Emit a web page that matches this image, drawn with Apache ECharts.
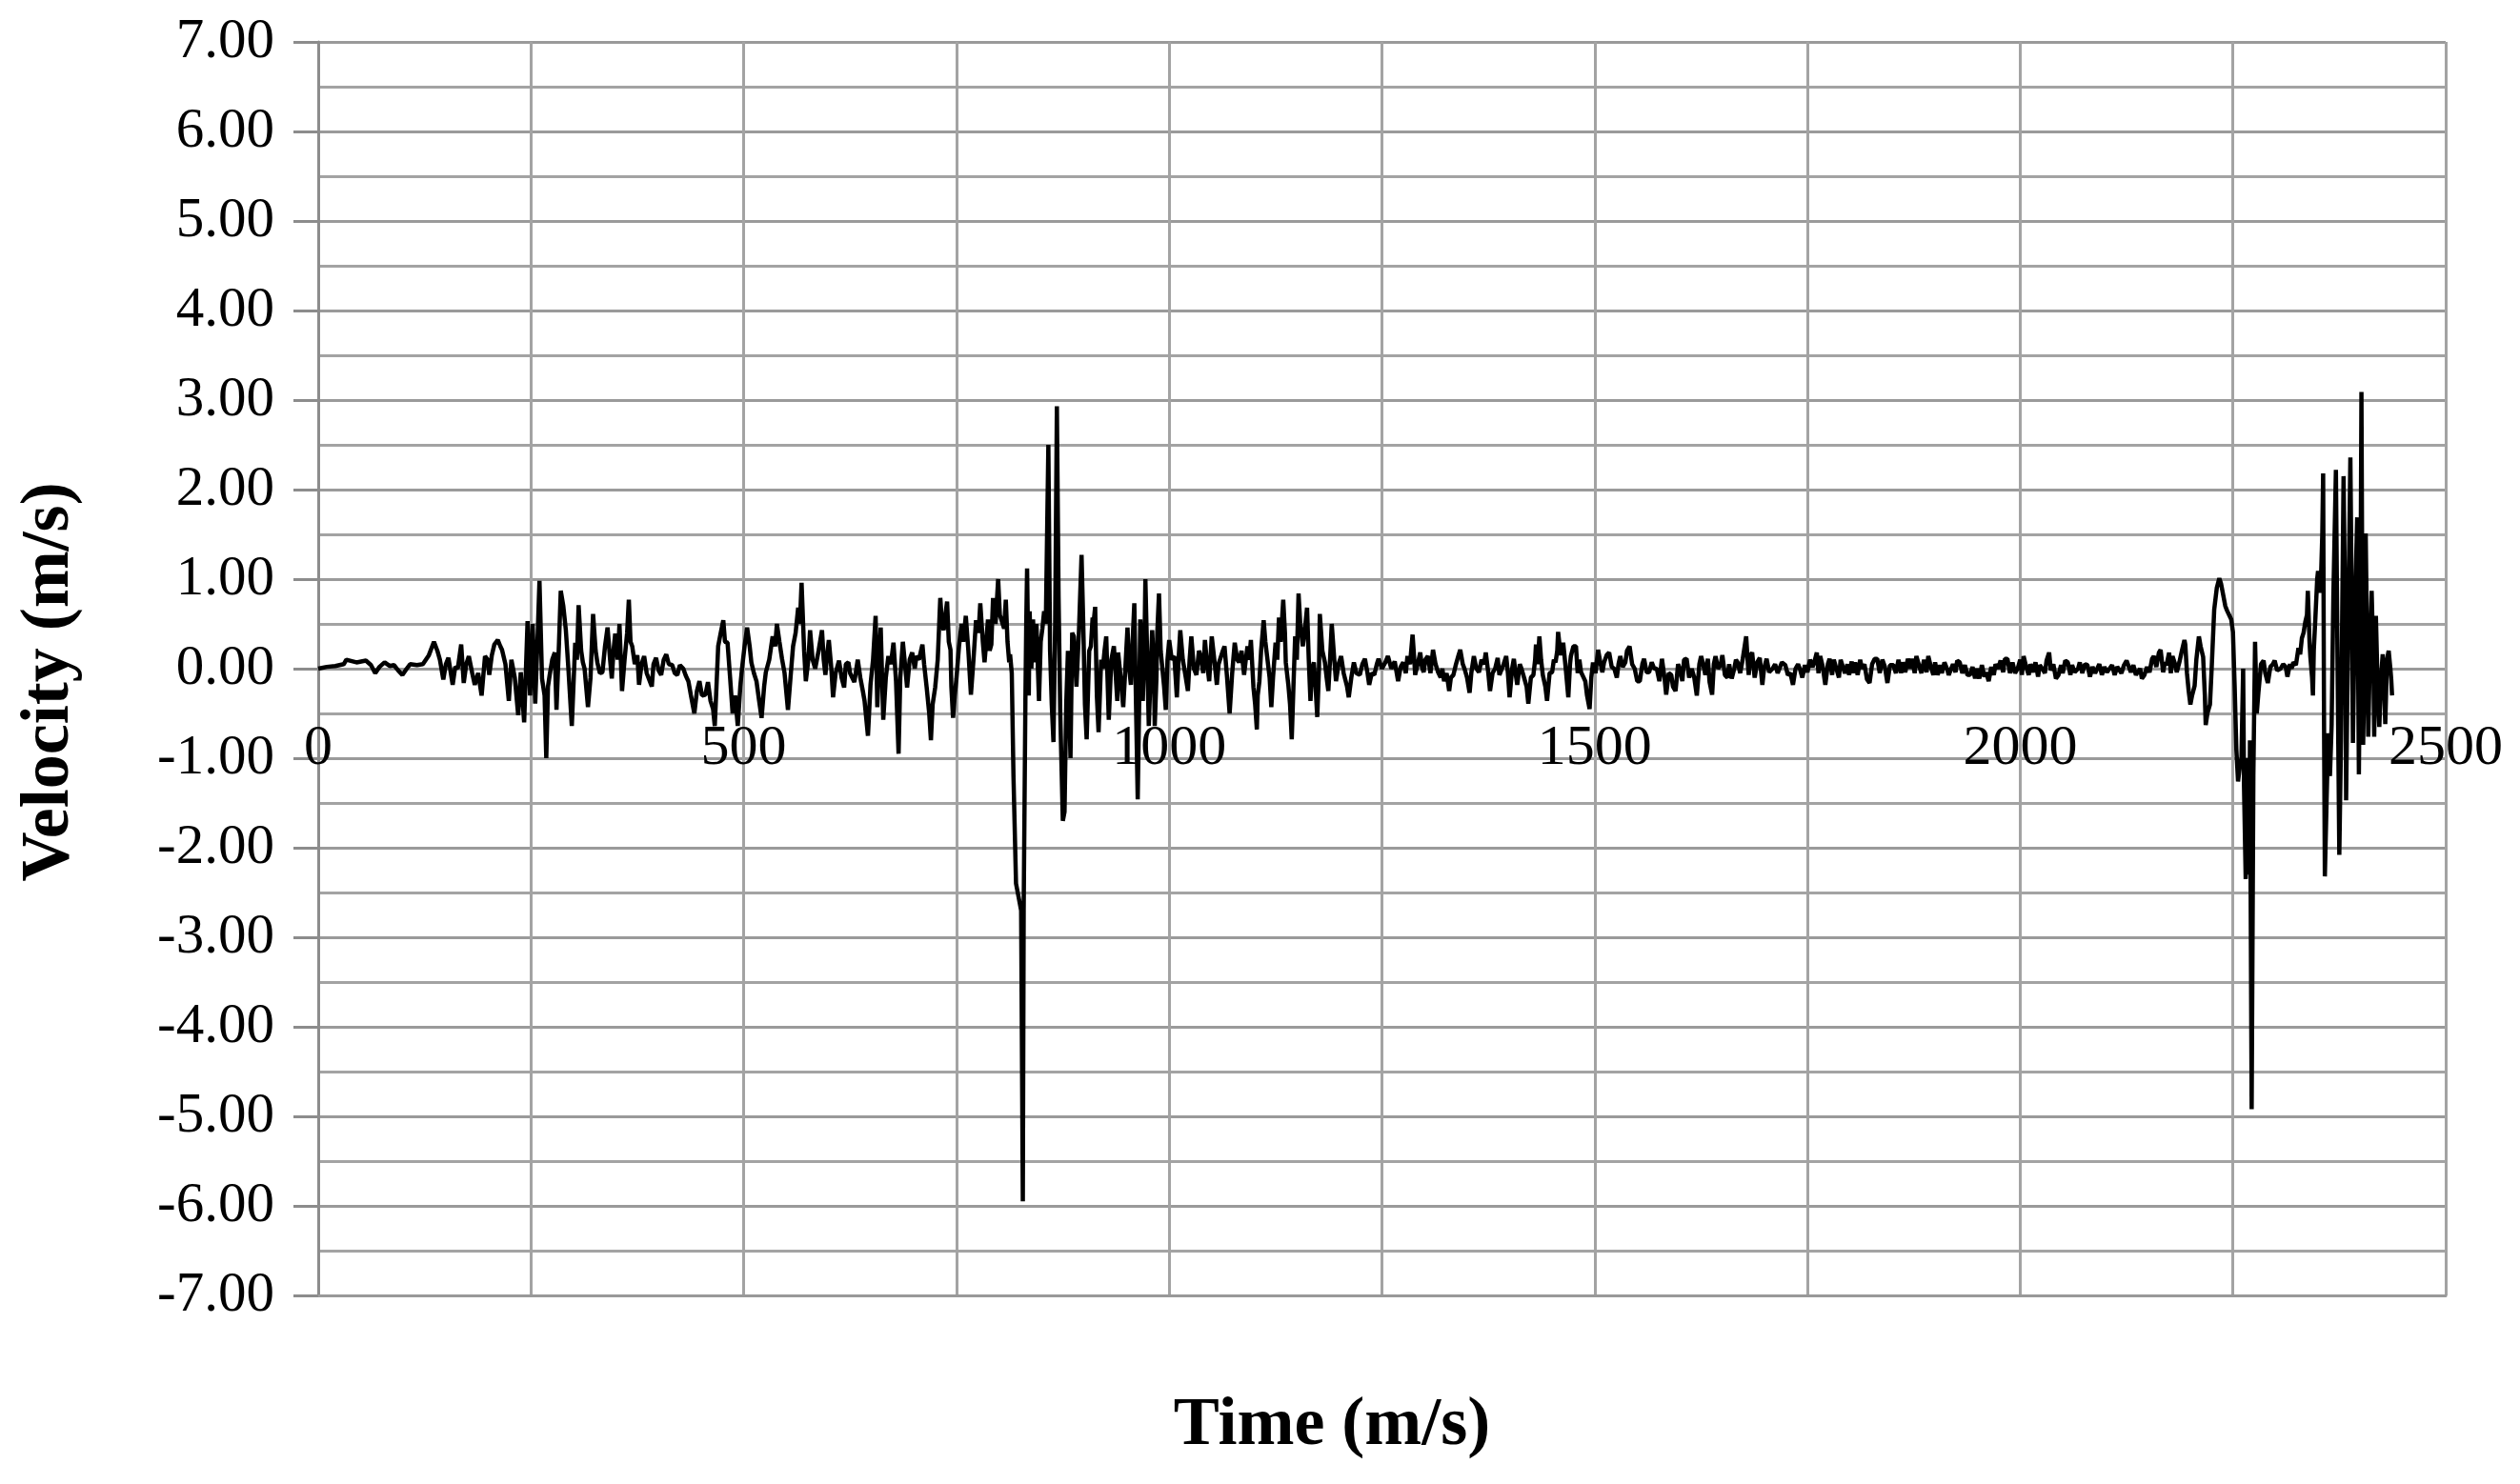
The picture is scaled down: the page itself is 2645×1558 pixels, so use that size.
<!DOCTYPE html>
<html>
<head>
<meta charset="utf-8">
<script src="https://cdn.jsdelivr.net/npm/echarts@6/dist/echarts.min.js"></script>
<style>
  html, body { margin: 0; padding: 0; background: #fff; }
  #chart { width: 2645px; height: 1558px; }
</style>
</head>
<body>
<div id="chart"></div>
<script>
// values, [time, velocity]
const quietStart = [
  [0,0.00],[10,0.02],[20,0.03],[30,0.05],[33,0.10],[45,0.07],[56,0.09],[62,0.04],[67,-0.05],[72,0.02],
  [78,0.07],[84,0.03],[89,0.04],[94,-0.02],[99,-0.07],[104,0.00],[108,0.05],[116,0.04],[123,0.05],[130,0.15],
  [136,0.30],[140,0.20],[143,0.10],[147,-0.12],[150,0.05],[153,0.12],[158,-0.18],[161,0.02],[164,0.00],[168,0.27],
  [171,-0.16],[174,0.05],[177,0.14],[181,-0.05],[184,-0.18],[188,-0.05],[192,-0.30],[196,0.14],[199,0.10],[201,-0.07],
  [204,0.15],[207,0.27],[211,0.32],[214,0.25],[216,0.21],[220,0.05],[224,-0.36],[227,0.10],[231,-0.10],[235,-0.52],
  [238,-0.04],[242,-0.60],[246,0.53],[249,-0.30],[252,0.50],[255,-0.39],[258,0.40],[260,0.98],[263,-0.11],[266,-0.30],
  [268,-1.00],[270,-0.20],[272,-0.07],[275,0.10],[278,0.18],[280,-0.46],[283,0.30],[285,0.87],[288,0.70],[291,0.43],
  [294,0.00],[298,-0.64],[302,0.29],[304,0.10],[306,0.71],[309,0.20],[311,0.07]
];

const firstEvent = [
  [313,0.00],[317,-0.43],[320,-0.10],[323,0.61],[326,0.20],[328,0.07],[331,-0.05],[334,-0.04],[337,0.25],[340,0.46],
  [343,0.10],[345,-0.11],[347,0.20],[349,0.39],[352,0.10],[354,0.50],[357,-0.25],[360,0.10],[363,0.40],[365,0.77],
  [367,0.30],[369,0.25],[372,0.05],[375,0.15],[377,-0.18],[380,0.05],[383,0.14],[386,-0.05],[388,-0.07],[392,-0.20],
  [394,0.05],[397,0.12],[400,-0.02],[403,-0.07],[406,0.10],[409,0.16],[412,0.05],[416,0.04],[419,-0.05],[422,-0.07],
  [425,0.04],[429,0.00],[432,-0.08],[435,-0.14],[438,-0.30],[442,-0.50],[445,-0.25],[448,-0.14],[451,-0.30],[455,-0.29],
  [458,-0.15],[461,-0.36],[464,-0.45],[466,-0.64],[468,-0.20],[470,0.25],[473,0.40],[476,0.54],[478,0.30],[481,0.29],
  [484,-0.10],[487,-0.50],[490,-0.30],[493,-0.64],[496,-0.20],[498,0.00],[501,0.25],[504,0.46],[507,0.25],[509,0.07],
  [512,-0.05],[515,-0.14],[518,-0.35],[521,-0.55],[524,-0.20],[526,-0.04],[530,0.10],[534,0.36],[537,0.25],[539,0.50],
  [542,0.30],[545,0.11],[548,-0.05],[552,-0.46],[555,-0.10],[558,0.25],[561,0.40],[564,0.68],[566,0.50],[568,0.96],
  [571,0.20],[573,-0.14],[576,0.10],[578,0.43],[581,0.10],[584,0.00],[588,0.20],[592,0.43],[594,0.10],[596,-0.07],
  [598,0.15],[600,0.32],[603,0.00],[605,-0.32],[608,-0.05],[612,0.09],[615,-0.10],[618,-0.21],[620,0.05],[623,0.07],
  [625,-0.05],[627,-0.04],[630,-0.15],[634,0.10],[637,-0.10],[640,-0.25],[642,-0.36],[646,-0.75],[649,-0.18],[652,0.10],
  [655,0.59],[657,-0.43],[659,0.10],[661,0.46],[664,-0.57],[667,-0.10],[670,0.14],[673,0.05],[676,0.29],[679,-0.14],
  [682,-0.95],[684,-0.10],[687,0.30],[690,0.00],[692,-0.21],[695,0.10],[698,0.18],[701,0.00],[703,0.14],[706,0.10],
  [710,0.27],[712,0.05],[715,-0.21],[718,-0.50],[720,-0.80],[722,-0.40],[725,-0.21],[728,0.10],[731,0.79],[733,0.50],
  [735,0.43],[737,0.60],[739,0.75],[741,0.30],[743,0.21],[744,-0.20],[746,-0.55],[748,-0.30],[750,-0.11],[753,0.25],
  [756,0.50],[758,0.30],[761,0.59],[764,0.20],[767,-0.29],[770,0.10],[773,0.54],[776,0.40],[778,0.73],[781,0.30],
  [783,0.07],[785,0.30],[787,0.55],[789,0.20],[791,0.27],[793,0.79],[796,0.50],[799,1.00],[801,0.60],[803,0.54],
  [806,0.45],[808,0.77],[810,0.30],[812,0.07],[813,0.16],[815,-0.05],[817,-1.20],[820,-2.40],[823,-2.55],[826,-2.70],
  [828,-5.95],[829,-2.70],[831,-0.37],[832,0.50],[833,1.12],[835,-0.30],[836,0.64],[838,0.00],[840,0.55],[842,0.07],
  [844,0.50],[847,-0.36],[849,0.30],[851,0.45],[853,0.64],[855,0.50],[858,2.50],[860,0.20],[862,-0.40],[864,-0.82],
  [866,0.50],[868,2.93],[870,0.80],[872,-0.50],[875,-1.70],[877,-1.60],[879,-0.40],[881,0.20],[884,-1.00],[886,0.40],
  [888,0.36],[891,-0.20],[894,0.43],[897,1.27],[899,0.50],[901,-0.40],[903,-0.79],[906,0.20],[908,0.25],[910,0.57],
  [911,0.50],[913,0.69],[915,-0.30],[917,-0.71],[920,0.10],[922,0.00],[924,0.20],[926,0.36],[929,-0.57],[932,0.10],
  [935,0.25],[937,-0.05],[939,-0.36],[940,0.18],[943,-0.10],[946,-0.43],[949,0.10],[951,0.46],[953,0.00],[955,-0.18],
  [957,0.30],[959,0.73],[961,-0.40],[963,-1.46],[965,-0.20],[966,0.55],[968,0.20],[969,-0.36],[971,0.30],[972,1.00],
  [974,0.20],[976,-0.64],[978,-0.10],[980,0.43],[982,0.00],[983,-0.64],[985,-0.10],[986,0.40],[988,0.84],[990,0.20],
  [992,0.00],[994,-0.20],[996,-0.46],[998,0.10],[1000,0.32],[1003,0.10],[1006,0.14],[1009,-0.32],[1011,0.10],[1013,0.43],
  [1016,0.10],[1019,-0.07],[1022,-0.25],[1024,0.10],[1026,0.36],[1029,0.00],[1032,-0.07],[1035,0.20],[1037,0.14],[1040,-0.05],
  [1042,0.32],[1044,0.10],[1047,-0.14],[1050,0.36],[1053,0.10],[1056,-0.18],[1058,0.05],[1060,0.07],[1063,0.20],[1065,0.25],
  [1068,-0.10],[1071,-0.50],[1074,-0.05],[1077,0.29],[1080,0.10],[1082,0.07],[1085,0.20],[1088,-0.07],[1090,0.10],[1092,0.25],
  [1094,0.10],[1096,0.32],[1099,-0.21],[1101,-0.40],[1103,-0.68],[1104,-0.30],[1106,-0.14],[1108,0.20],[1111,0.54],[1113,0.30],
  [1115,0.14],[1118,-0.10],[1120,-0.43],[1122,-0.10],[1125,0.29],[1127,0.10],[1129,0.57],[1131,0.30],[1134,0.77],[1136,0.40],
  [1137,0.07],[1140,-0.18],[1142,-0.40],[1144,-0.79],[1146,-0.20],[1148,0.36],[1150,0.10],[1152,0.84],[1154,0.50],[1157,0.25],
  [1159,0.40],[1162,0.68],[1164,0.10],[1166,-0.36],[1168,0.00],[1170,0.07],[1172,-0.20],[1174,-0.54],[1176,0.00],[1177,0.61],
  [1180,0.20],[1183,0.07],[1185,-0.10],[1187,-0.25],[1189,0.10],[1191,0.50],[1194,0.10],[1196,-0.14],[1199,0.05],[1202,0.14],
  [1205,-0.05],[1207,-0.07],[1209,-0.20],[1211,-0.32],[1214,-0.10],[1217,0.07],[1220,-0.05],[1224,-0.07],[1227,0.05],[1230,0.11],
  [1233,-0.05],[1235,-0.18],[1238,-0.05],[1241,-0.07],[1244,0.05],[1246,0.11],[1250,0.00],[1254,0.07]
];

const quietMiddle = [
  [1257,0.14],[1261,0.00],[1265,0.08],[1269,-0.14],[1272,0.02],[1275,0.07],[1278,-0.05],[1280,0.14],[1283,0.05],[1286,0.38],
  [1288,0.10],[1289,-0.07],[1292,0.05],[1295,0.18],[1297,0.02],[1299,-0.04],[1301,0.10],[1304,0.14],[1307,-0.05],[1310,0.21],
  [1313,0.05],[1316,-0.04],[1319,-0.10],[1321,0.00],[1323,-0.14],[1326,-0.05],[1329,-0.25],[1331,-0.10],[1334,-0.07],[1337,0.05],
  [1340,0.15],[1342,0.21],[1345,0.05],[1347,0.00],[1350,-0.10],[1353,-0.27],[1355,-0.05],[1358,0.14],[1361,0.00],[1364,-0.04],
  [1367,0.10],[1370,0.05],[1372,0.18],[1375,-0.05],[1377,-0.25],[1380,-0.05],[1383,0.00],[1386,0.12],[1388,-0.07],[1390,-0.07],
  [1393,0.05],[1396,0.14],[1398,-0.05],[1400,-0.32],[1403,0.00],[1405,0.11],[1407,-0.05],[1409,-0.18],[1412,0.05],[1414,0.00],
  [1417,-0.10],[1420,-0.20],[1422,-0.39],[1425,-0.10],[1428,-0.07],[1430,0.10],[1431,0.27],[1433,0.05],[1435,0.36],[1437,0.10],
  [1439,-0.07],[1442,-0.20],[1444,-0.36],[1447,-0.05],[1450,-0.04],[1452,0.10],[1454,0.07],[1456,0.20],[1457,0.41],[1460,0.15],
  [1463,0.29],[1466,0.00],[1469,-0.32],[1471,0.05],[1472,0.14],[1475,0.25],[1478,0.25],[1480,-0.05],[1482,0.10],[1484,-0.04],
  [1487,-0.10],[1489,-0.14],[1491,-0.30],[1494,-0.45],[1496,-0.10],[1498,0.07],[1501,-0.05],[1504,0.21],[1507,0.05],[1509,-0.04],
  [1511,0.07],[1514,0.15],[1517,0.18],[1520,0.02],[1523,0.00],[1526,-0.10],[1528,0.05],[1530,0.14],[1533,0.02],[1536,0.07],
  [1538,0.20],[1541,0.25],[1544,0.05],[1547,0.00],[1550,-0.14],[1553,-0.14],[1556,0.05],[1558,0.11],[1561,-0.04],[1564,-0.04],
  [1567,0.07],[1570,0.00],[1573,0.00],[1576,-0.14],[1579,0.11],[1582,-0.10],[1584,-0.29],[1587,-0.05],[1590,-0.07],[1592,-0.20],
  [1595,-0.25],[1598,0.05],[1600,0.00],[1603,-0.14],[1605,0.10],[1608,0.11],[1611,-0.10],[1614,0.00],[1617,-0.10],[1620,-0.30],
  [1623,0.05],[1625,0.14],[1627,0.07],[1630,-0.07],[1633,0.11],[1635,-0.15],[1638,-0.29],[1640,0.05],[1642,0.14],[1645,0.00],
  [1648,0.04],[1650,0.15],[1653,-0.07],[1656,-0.10],[1658,0.05],[1661,-0.11],[1664,0.00],[1666,0.10],[1668,0.07],[1671,-0.05],
  [1674,0.11],[1676,0.10],[1678,0.36],[1680,0.05],[1681,-0.07],[1683,0.15],[1685,0.18],[1688,-0.10],[1691,0.07],[1694,0.12],
  [1697,-0.18],[1699,0.00],[1702,0.11],[1705,-0.04],[1709,0.00],[1712,0.05],[1715,-0.05],[1717,-0.04],[1720,0.07],[1724,0.04],
  [1727,-0.07],[1730,-0.05],[1733,-0.18],[1736,0.00],[1739,0.05],[1741,0.00],[1744,-0.10],[1747,0.04],[1750,-0.04],[1753,0.10],
  [1756,0.02],[1758,0.07],[1761,0.18],[1763,-0.05],[1765,0.14],[1768,0.02],[1771,-0.18],[1774,0.05],[1776,0.11],[1779,-0.07],
  [1781,0.10],[1784,0.00],[1787,-0.10],[1789,0.10],[1791,0.09],[1794,-0.05],[1797,0.05],[1799,-0.07],[1802,0.08],[1804,-0.05],
  [1806,0.07],[1809,-0.07],[1812,0.10],[1814,0.00],[1817,0.05],[1820,-0.12],[1823,-0.16],[1826,0.05],[1829,0.11],[1832,0.11],
  [1835,-0.05],[1838,0.10],[1841,0.02],[1844,-0.16],[1847,0.04],[1851,0.04],[1854,-0.05],[1857,0.10],[1860,-0.05],[1862,0.07],
  [1865,-0.04],[1868,0.11],[1871,0.00],[1873,0.11],[1876,-0.05],[1878,0.14],[1881,0.04],[1884,-0.05],[1887,0.10],[1890,-0.04],
  [1892,0.14],[1895,0.02],[1898,-0.07],[1900,0.07],[1903,-0.07],[1906,0.04],[1908,-0.05],[1911,0.07],[1914,0.00],[1916,-0.07],
  [1918,-0.07],[1921,0.05],[1924,-0.04],[1926,0.09],[1929,0.07],[1932,-0.05],[1935,0.04],[1938,-0.07],[1941,-0.07],[1944,0.02],
  [1947,-0.11],[1949,0.00],[1952,-0.11],[1955,0.04],[1958,-0.09],[1960,-0.04],[1963,-0.14],[1966,0.02],[1969,-0.07],[1971,0.05],
  [1974,0.00],[1977,0.09],[1980,-0.04],[1982,0.11],[1985,0.11],[1988,-0.05],[1991,0.07],[1994,-0.05],[1997,0.00],[2000,0.10],
  [2002,-0.07],[2004,0.14],[2007,0.02],[2010,-0.07],[2012,0.05],[2015,-0.04],[2018,0.07],[2021,-0.09],[2023,0.04],[2026,0.00],
  [2029,-0.05],[2031,0.09],[2034,0.18],[2036,-0.02],[2039,0.05],[2042,-0.11],[2045,-0.07],[2048,0.04],[2050,-0.05],[2053,0.09],
  [2056,0.07],[2059,-0.07],[2061,0.04],[2064,-0.04],[2068,0.00],[2070,0.07],[2073,-0.05],[2076,0.05],[2079,0.04],[2082,-0.09],
  [2085,0.02],[2088,-0.05],[2090,-0.04],[2093,0.05],[2096,-0.07],[2099,0.02],[2102,-0.04],[2105,0.00],[2108,0.04],[2111,-0.07],
  [2114,0.02],[2116,0.00],[2119,-0.05],[2122,0.04],[2125,0.09],[2127,0.07],[2130,-0.04],[2133,0.04],[2136,-0.07],[2138,-0.04],
  [2141,0.00],[2143,-0.11],[2146,-0.07],[2149,0.02],[2152,-0.04],[2155,0.11],[2157,0.14],[2160,0.02],[2163,0.18],[2165,0.21],
  [2168,-0.04],[2170,0.07],[2172,0.04],[2175,0.18],[2177,-0.05],[2179,0.14],[2182,0.05],[2184,-0.04],[2187,0.07],[2190,0.20],
  [2193,0.32]
];

const secondEvent = [
  [2194,0.27],[2196,-0.05],[2198,-0.25],[2200,-0.40],[2202,-0.30],[2205,-0.19],[2207,0.10],[2210,0.36],[2212,0.25],[2215,0.13],
  [2217,-0.30],[2218,-0.63],[2220,-0.50],[2223,-0.40],[2225,0.00],[2228,0.66],[2231,0.90],[2234,1.01],[2236,0.95],[2238,0.94],
  [2241,0.70],[2243,0.65],[2246,0.59],[2248,0.55],[2250,0.41],[2252,-0.19],[2254,-0.90],[2256,-1.26],[2258,-1.10],[2260,-1.00],
  [2262,0.00],[2263,-1.30],[2265,-2.35],[2267,-1.00],[2269,-2.30],[2270,-0.80],[2272,-4.92],[2274,-1.20],[2276,0.30],[2278,-0.50],
  [2280,-0.26],[2283,0.05],[2286,0.09],[2288,-0.05],[2291,-0.16],[2294,0.02],[2297,0.05],[2299,0.09],[2302,-0.02],[2306,0.00],
  [2309,0.05],[2312,0.02],[2314,-0.09],[2317,0.05],[2319,0.00],[2321,0.07],[2324,0.04],[2327,0.23],[2329,0.16],[2331,0.34],
  [2333,0.40],[2335,0.52],[2337,0.60],[2338,0.87],[2340,0.30],[2341,0.13],[2343,-0.10],[2344,-0.30],[2345,0.20],[2347,0.59],
  [2349,1.00],[2350,1.09],[2352,0.90],[2353,0.85],[2355,1.50],[2356,2.18],[2357,-0.50],[2358,-2.32],[2360,-1.50],[2362,-0.72],
  [2364,-1.20],[2366,-0.62],[2368,0.80],[2371,2.22],[2373,0.00],[2375,-2.08],[2377,-0.80],[2380,2.15],[2382,0.50],[2383,-1.47],
  [2385,0.20],[2388,2.36],[2390,0.30],[2391,-0.83],[2393,0.50],[2396,1.69],[2397,0.20],[2398,-1.18],[2400,1.00],[2401,3.09],
  [2402,0.80],[2403,-0.85],[2405,0.30],[2406,1.51],[2408,0.00],[2409,-0.76],[2411,0.20],[2413,0.87],[2415,0.10],[2416,-0.76],
  [2418,0.59],[2420,-0.20],[2422,-0.65],[2424,-0.10],[2426,0.16],[2428,-0.30],[2429,-0.62],[2431,0.10],[2433,0.20],[2435,0.00],
  [2436,-0.12],[2437,-0.30]
];

const xRange = [0, 2500];
const yRange = [-7, 7];

const samples = quietStart.concat(firstEvent, quietMiddle, secondEvent);

const labelFont = 'Liberation Serif';
const gridGray = '#a3a3a3';

let myChart = echarts.init(document.getElementById('chart'), null, { renderer: 'canvas' });

let option = {
  backgroundColor: '#fff',
  animation: false,
  grid: { left: 334, right: 78, top: 44, bottom: 198 },
  xAxis: {
    type: 'value',
    min: xRange[0],
    max: xRange[1],
    interval: 500,
    axisLine: { show: true, onZero: false, lineStyle: { color: '#999', width: 3 } },
    axisTick: { show: false },
    axisLabel: {
      // labels sit just under the zero line, as in the picture
      margin: -604,
      fontFamily: labelFont,
      fontSize: 60,
      color: '#000',
      formatter: function (v) { return String(v); }
    },
    splitLine: { show: true, lineStyle: { color: gridGray, width: 3 } },
    minorTick: { show: false, splitNumber: 2 },
    minorSplitLine: { show: true, lineStyle: { color: gridGray, width: 3 } }
  },
  yAxis: {
    type: 'value',
    min: yRange[0],
    max: yRange[1],
    interval: 1,
    axisLine: { show: true, lineStyle: { color: '#8c8c8c', width: 3 } },
    axisTick: { show: true, inside: false, length: 26, lineStyle: { color: '#8c8c8c', width: 3 } },
    axisLabel: {
      margin: 46,
      fontFamily: labelFont,
      fontSize: 59,
      color: '#000',
      formatter: function (v) { return v.toFixed(2); }
    },
    splitLine: { show: true, lineStyle: { color: '#9a9a9a', width: 3 } },
    minorTick: { show: false, splitNumber: 2 },
    minorSplitLine: { show: true, lineStyle: { color: gridGray, width: 3 } }
  },
  series: [{
    type: 'line',
    data: samples,
    showSymbol: false,
    symbol: 'none',
    sampling: null,
    lineStyle: { color: '#000', width: 4.5 },
    z: 5
  }],
  graphic: [
    {
      type: 'text',
      x: 1398,
      y: 1497,
      style: {
        text: 'Time (m/s)',
        font: 'bold 72px "Liberation Serif"',
        fill: '#000',
        align: 'center',
        verticalAlign: 'middle'
      }
    },
    {
      type: 'text',
      x: 52,
      y: 716,
      rotation: Math.PI / 2,
      style: {
        text: 'Velocity (m/s)',
        font: 'bold 72px "Liberation Serif"',
        fill: '#000',
        align: 'center',
        verticalAlign: 'middle'
      }
    }
  ]
};

myChart.setOption(option);
</script>
</body>
</html>
